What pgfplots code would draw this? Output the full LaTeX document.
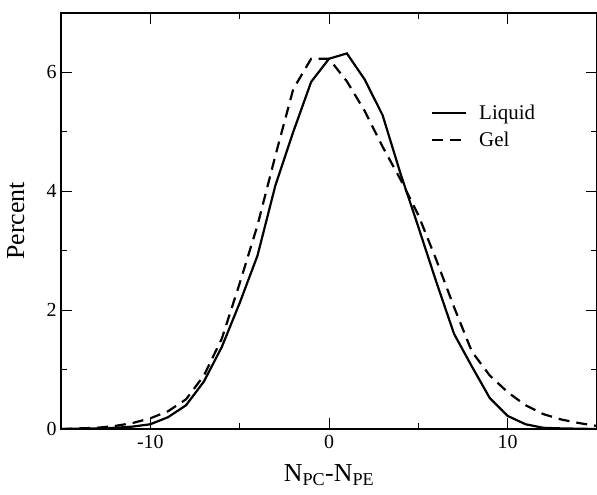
\documentclass[border=0pt]{standalone}
\usepackage{fontspec}
\setmainfont{Liberation Serif}
\usepackage{pgfplots}
\pgfplotsset{compat=1.18}
\begin{document}
\begin{tikzpicture}
\begin{axis}[
  at={(0,0)}, anchor=south west,
  scale only axis, width=536bp, height=416bp,
  xmin=-15, xmax=15, ymin=0, ymax=7,
  xtick={-10,0,10}, xticklabels={-10,0,10},
  ytick={0,2,4,6}, yticklabels={0,2,4,6},
  minor x tick num=1, minor y tick num=1,
  tick align=inside, tick pos=both,
  major tick length=11bp, minor tick length=6bp,
  every tick/.style={black, line width=1bp},
  axis line style={line width=1.2bp},
  ticklabel style={font=\fontsize{20}{24}\selectfont},
  xticklabel style={yshift=-3bp},
  yticklabel style={xshift=-1bp},
  xlabel={N\textsubscript{PC}-N\textsubscript{PE}},
  ylabel={Percent},
  label style={font=\fontsize{26}{30}\selectfont},
  xlabel style={at={(axis description cs:0.5,0)}, anchor=north, yshift=-32bp},
  ylabel style={at={(axis description cs:0,0.5)}, anchor=south, yshift=33bp},
  legend style={draw=none, fill=none, at={(0.69,0.785)}, anchor=north west,
    font=\fontsize{21}{25}\selectfont, row sep=7bp, column sep=10bp, inner sep=0pt},
  legend cell align=left,
  legend image code/.code={\draw[#1] (0bp,0bp) -- (34bp,0bp);},
]
\addplot[black, line width=2.2bp] coordinates {
(-15,0) (-14,0.005) (-13,0.01) (-12,0.02) (-11,0.04) (-10,0.08) (-9,0.2) (-8,0.4) (-7,0.8) (-6,1.38) (-5,2.12) (-4,2.92) (-3,4.1) (-2,5.0) (-1,5.84) (0,6.23) (1,6.32) (2,5.88) (3,5.28) (4,4.3) (5,3.4) (6,2.48) (7,1.6) (8,1.05) (9,0.52) (10,0.22) (11,0.08) (12,0.02) (13,0.01) (14,0.005) (15,0)
};
\addlegendentry{Liquid}
\addplot[black, line width=2.2bp, dash pattern=on 11bp off 7bp] coordinates {
(-15,0) (-14,0.01) (-13,0.02) (-12,0.05) (-11,0.1) (-10,0.18) (-9,0.3) (-8,0.5) (-7,0.9) (-6,1.52) (-5,2.45) (-4,3.43) (-3,4.6) (-2,5.72) (-1,6.23) (0,6.23) (1,5.85) (2,5.35) (3,4.75) (4,4.2) (5,3.6) (6,2.85) (7,2.05) (8,1.3) (9,0.9) (10,0.62) (11,0.4) (12,0.25) (13,0.16) (14,0.1) (15,0.05)
};
\addlegendentry{Gel}
\end{axis}
\pgfresetboundingbox
\useasboundingbox (-61bp,-66bp) rectangle (536bp,429bp);
\end{tikzpicture}
\end{document}
